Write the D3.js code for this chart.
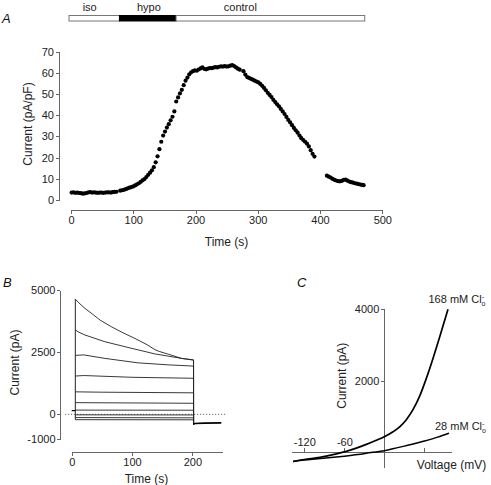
<!DOCTYPE html>
<html><head><meta charset="utf-8">
<script src="https://cdn.jsdelivr.net/npm/d3@7"></script>
<style>
body{margin:0;background:#fff;}
svg{font-family:"Liberation Sans",Arial,Helvetica,sans-serif;}
.axis path,.axis line{stroke:#666;stroke-width:1;shape-rendering:crispEdges;}
.axis text{fill:#222;font-size:11px;font-family:"Liberation Sans",Arial,sans-serif;}
.title{font-size:12px;fill:#222;}
.plab{font-size:13px;font-style:italic;fill:#111;}
</style></head><body>
<script>
// ---------- Panel A data ----------
const timeA = [1,4,7,10,13,16,19,22,25,28,31,34,37,40,43,46,49,52,55,58,61,64,67,70,73,
79,82,85,88,91,94,97,100,103,106,109,112,115,118,121,124,127,130,133,136,139,142,145,148,
151,154,157,160,163,166,169,172,175,178,181,184,187,190,193,196,199,202,205,208,211,214,217,
220,223,226,229,232,235,238,241,244,247,250,253,256,259,262,265,268,271,277,280,283,286,289,
292,295,298,301,304,307,310,313,316,319,322,325,328,331,334,337,340,343,346,349,352,355,358,
361,364,367,370,373,376,379,382,385,388,391,
411,414,417,420,423,426,429,432,435,438,441,444,447,450,453,456,459,462,465,468,470];
const currentA = [3.5,3.6,3.4,3.5,3.3,3.2,3.0,3.1,3.3,3.6,3.7,3.5,3.6,3.5,3.4,3.5,3.5,3.4,3.5,3.6,3.6,3.5,3.7,3.8,3.9,
4.4,4.6,4.8,5.1,5.5,5.8,6.1,6.4,6.9,7.4,7.9,8.6,9.3,9.9,10.8,11.9,12.9,14.0,15.5,17.8,20.6,24.0,27.5,30.4,
32.3,34.2,35.8,37.6,39.3,41.8,46.5,48.4,50.3,52.0,54.2,56.3,57.8,59.3,60.3,60.8,61.2,61.0,61.6,62.1,62.6,61.9,61.7,
62.0,62.3,62.2,62.5,62.7,62.6,62.9,63.1,63.0,63.2,63.0,63.1,63.4,63.7,63.2,62.6,62.0,61.5,60.8,59.2,58.0,57.6,57.2,
56.8,56.3,55.9,55.5,54.8,53.9,52.9,51.8,50.6,49.6,48.6,47.3,46.2,45.2,44.2,43.0,41.8,40.6,39.2,37.8,36.6,35.3,34.0,
32.9,31.8,30.4,29.2,28.3,27.5,26.6,25.3,23.5,21.8,20.5,
11.5,11.0,10.6,10.0,9.5,9.2,8.9,8.8,9.0,9.5,9.6,9.1,8.7,8.4,8.2,7.9,7.7,7.5,7.3,7.1,7.0];
const ticksAx = [0,100,200,300,400,500];
const ticksAy = [0,10,20,30,40,50,60,70];
// solution bar (time, s)
const barNames = ["iso","hypo","control"];
const barStart = [-4,77,168];
const barEnd = [77,168,471];
const barFill = ["#fff","#000","#fff"];
const barLabelT = [30,125,272];

// ---------- Panel B data ----------
const traceT = [
 [6,12,22,35,47,66,85,105,125,138,145,160,182,202],
 [6,12,22,55,100,138,182,202],
 [6,20,55,110,160,202],
 [6,20,100,202],
 [6,50,202],
 [6,202],[6,202],[6,202],[6,202],[6,202]
];
const traceI = [
 [4630,4480,4260,4020,3790,3520,3280,3050,2800,2600,2530,2420,2250,2180],
 [3390,3300,3190,2920,2650,2430,2250,2190],
 [2370,2390,2250,2070,1990,1940],
 [1540,1560,1490,1450],
 [905,890,865],
 [470,445],[170,165],[-20,-25],[-130,-140],[-215,-220]
];
const holdT = [0,6], holdI = [150,150];
const tailT = [202,204,220,248], tailI = [-400,-370,-355,-345];
const ticksBx = [0,100,200];
const ticksBy = [-1000,0,2500,5000];

// ---------- Panel C data ----------
const volt168 = [-137,-120,-100,-87,-72,-57,-42,-27,-12,0,13,23,33,43,53,63,73,83,95.5];
const curr168 = [-275,-220,-165,-125,-60,10,100,205,320,420,560,700,900,1180,1560,2060,2620,3220,4000];
const volt28 = [-137,-120,-100,-80,-60,-40,-20,0,20,40,60,80,97];
const curr28 = [-275,-232,-200,-165,-125,-80,-25,25,115,200,300,410,520];
const ticksCx = [-120,-60,60];
const ticksCy = [2000,4000];

const svg = d3.select("body").append("svg").attr("width",491).attr("height",485);

// ===== Panel A =====
const xA = d3.scaleLinear().domain([0,500]).range([71,382.3]);
const yA = d3.scaleLinear().domain([0,70]).range([200,51.7]);
svg.append("g").attr("class","axis").attr("transform","translate(0,209.7)")
  .call(d3.axisBottom(xA).tickValues(ticksAx).tickSize(4).tickPadding(3).tickSizeOuter(0).tickFormat(d=>String(d)));
svg.append("g").attr("class","axis").attr("transform","translate(59,0)")
  .call(d3.axisLeft(yA).tickValues(ticksAy).tickSize(3).tickPadding(2).tickSizeOuter(0).tickFormat(d=>String(d)));
svg.append("g").selectAll("circle").data(timeA).join("circle")
  .attr("cx",(d)=>xA(d)).attr("cy",(d,i)=>yA(currentA[i])).attr("r",2.1).attr("fill","#000");
svg.append("g").selectAll("rect").data(barNames).join("rect")
  .attr("x",(d,i)=>xA(barStart[i])+0.5).attr("y",15.5).attr("height",5.5)
  .attr("width",(d,i)=>xA(barEnd[i])-xA(barStart[i]))
  .attr("fill",(d,i)=>barFill[i]).attr("stroke",(d,i)=>i===1?"#000":"#777").attr("stroke-width",1);
svg.append("g").selectAll("text").data(barNames).join("text")
  .attr("x",(d,i)=>xA(barLabelT[i])).attr("y",10.5).attr("text-anchor","middle")
  .style("font-size","11px").attr("fill","#222").text(d=>d);
svg.append("text").attr("class","title").attr("text-anchor","middle").attr("x",226.6).attr("y",246).text("Time (s)");
svg.append("text").attr("class","title").attr("text-anchor","middle")
  .attr("transform","translate(32,124) rotate(-90)").text("Current (pA/pF)");
svg.append("text").attr("class","plab").attr("x",2).attr("y",23).text("A");

// ===== Panel B =====
const xB = d3.scaleLinear().domain([0,250]).range([71.7,222.5]);
const yB = d3.scaleLinear().domain([-1000,5000]).range([439.2,290]);
svg.append("g").attr("class","axis").attr("transform","translate(0,451.7)")
  .call(d3.axisBottom(xB).tickValues(ticksBx).tickSize(4).tickPadding(3).tickSizeOuter(0).tickFormat(d=>String(d)));
svg.append("g").attr("class","axis").attr("transform","translate(60,0)")
  .call(d3.axisLeft(yB).tickValues(ticksBy).tickSize(3).tickPadding(1.5).tickSizeOuter(0).tickFormat(d=>String(d)));
// zero reference (dotted)
svg.append("line").attr("x1",65).attr("x2",227).attr("y1",yB(0)).attr("y2",yB(0))
  .attr("stroke","#444").attr("stroke-width",0.8).attr("stroke-dasharray","1.2,1.8");
const lineB = d3.line().x(d=>xB(d[0])).y(d=>yB(d[1]));
const tracePts = traceT.map((ts,k)=>{
  const p = ts.map((t,i)=>[t,traceI[k][i]]);
  p.push([tailT[0],tailI[0]]);
  return p;
});
const startLow = d3.min(traceI,a=>a[0]);
const startHigh = d3.max(traceI,a=>a[0]);
svg.append("line").attr("x1",xB(traceT[0][0])).attr("x2",xB(traceT[0][0]))
  .attr("y1",yB(startLow)).attr("y2",yB(startHigh)).attr("stroke","#222").attr("stroke-width",1);
svg.append("g").selectAll("path").data(tracePts).join("path")
  .attr("d",lineB).attr("fill","none").attr("stroke","#222").attr("stroke-width",0.9);
svg.append("path").attr("d",lineB(holdT.map((t,i)=>[t,holdI[i]]))).attr("fill","none").attr("stroke","#000").attr("stroke-width",1.2);
svg.append("path").attr("d",lineB(tailT.map((t,i)=>[t,tailI[i]]))).attr("fill","none").attr("stroke","#000").attr("stroke-width",1.6);
svg.append("text").attr("class","title").attr("text-anchor","middle").attr("x",146.5).attr("y",482.5).text("Time (s)");
svg.append("text").attr("class","title").attr("text-anchor","middle")
  .attr("transform","translate(19,362.5) rotate(-90)").text("Current (pA)");
svg.append("text").attr("class","plab").attr("x",3).attr("y",287).text("B");

// ===== Panel C =====
const xC = d3.scaleLinear().domain([-140,100]).range([291,451]);
const yC = d3.scaleLinear().domain([0,4000]).range([451.7,309.3]);
svg.append("g").attr("class","axis").attr("transform",`translate(0,${yC(0)})`)
  .call(d3.axisTop(xC).tickValues(ticksCx).tickSize(4).tickPadding(2).tickSizeOuter(0)
    .tickFormat(d=>d<0?String(d):""));
const yAxC = svg.append("g").attr("class","axis").attr("transform",`translate(${xC(0)},0)`)
  .call(d3.axisLeft(yC).tickValues(ticksCy).tickSize(3).tickPadding(2).tickSizeOuter(0).tickFormat(d=>String(d)));
yAxC.select(".domain").attr("d",`M0,${yC(4000)}V${yC(-470)}`);
const lineC = d3.line().curve(d3.curveMonotoneX).x(d=>xC(d[0])).y(d=>yC(d[1]));
svg.append("path").attr("d",lineC(volt168.map((v,i)=>[v,curr168[i]]))).attr("fill","none").attr("stroke","#000").attr("stroke-width",1.7);
svg.append("path").attr("d",lineC(volt28.map((v,i)=>[v,curr28[i]]))).attr("fill","none").attr("stroke","#000").attr("stroke-width",1.5);
function clLabel(x,y,txt){
  const t = svg.append("text").attr("x",x).attr("y",y).style("font-size","11px").attr("fill","#222");
  t.append("tspan").text(txt);
  t.append("tspan").attr("dy",-4).style("font-size","7px").text("-");
  t.append("tspan").attr("dx",-2.5).attr("dy",7).style("font-size","7px").text("o");
}
clLabel(428.5,303,"168 mM Cl");
clLabel(435,430,"28 mM Cl");
svg.append("text").attr("class","title").attr("text-anchor","middle").attr("x",451.5).attr("y",468.5).text("Voltage (mV)");
svg.append("text").attr("class","title").attr("text-anchor","middle")
  .attr("transform","translate(346,375.7) rotate(-90)").text("Current (pA)");
svg.append("text").attr("class","plab").attr("x",297).attr("y",287).text("C");
</script>
</body></html>
